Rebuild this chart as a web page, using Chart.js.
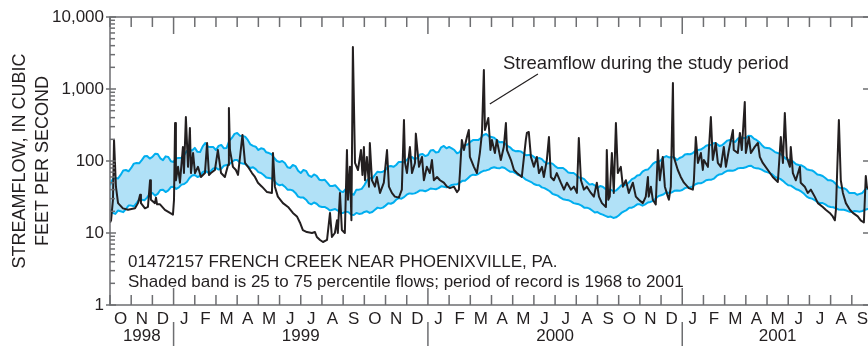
<!DOCTYPE html>
<html>
<head>
<meta charset="utf-8">
<title>French Creek streamflow</title>
<script src="https://cdn.jsdelivr.net/npm/chart.js@4.4.0/dist/chart.umd.min.js"></script>
<style>
  html, body { margin: 0; padding: 0; background: #fff; width: 868px; height: 346px; overflow: hidden; }
  #wrap { position: relative; width: 880px; height: 346px; }
</style>
</head>
<body>
<div id="wrap"><canvas id="flowChart"></canvas></div>
<script>
// Month letters for Oct 1998 .. Sep 2001 (x axis unit = months since Oct 1, 1998)
const monthLetters = [
    'O', 'N', 'D',
    'J', 'F', 'M', 'A', 'M', 'J', 'J', 'A', 'S', 'O', 'N', 'D',
    'J', 'F', 'M', 'A', 'M', 'J', 'J', 'A', 'S', 'O', 'N', 'D',
    'J', 'F', 'M', 'A', 'M', 'J', 'J', 'A', 'S'
];
const years = ['1998', '1999', '2000', '2001'];
const yearStartMonth = [0, 3, 15, 27];
const yearEndMonth = [3, 15, 27, 36];

const yTickValues = [1, 10, 100, 1000, 10000];

// Percentile band, one value every eighth of a month (cfs)
const bandStep = 0.125;
const bandUpper = [
    46, 56, 58, 57, 64, 74, 75, 72, 80, 92,
    94, 93, 103, 116, 117, 108, 114, 126, 125, 109,
    103, 116, 114, 99, 97, 109, 110, 111, 121, 138,
    142, 140, 152, 134, 133, 160, 178, 158, 157, 156,
    142, 162, 167, 150, 152, 190, 209, 238, 245, 225,
    223, 218, 196, 170, 162, 158, 142, 150, 147, 132,
    129, 124, 110, 100, 97, 100, 94, 82, 80, 88,
    85, 73, 68, 75, 73, 63, 60, 65, 62, 55,
    54, 55, 50, 45, 45, 46, 42, 38, 37, 41,
    40, 35, 34, 40, 40, 41, 46, 54, 58, 57,
    64, 71, 70, 71, 75, 84, 85, 83, 88, 97,
    97, 96, 103, 113, 114, 106, 110, 123, 125, 117,
    121, 140, 142, 131, 133, 155, 162, 150, 157, 150,
    142, 128, 133, 158, 167, 170, 184, 195, 196, 195,
    209, 230, 237, 220, 215, 210, 196, 182, 184, 176,
    162, 155, 142, 137, 138, 136, 129, 120, 121, 121,
    114, 107, 110, 106, 97, 92, 94, 92, 85, 80,
    80, 80, 75, 69, 68, 68, 64, 59, 58, 56,
    51, 47, 48, 46, 42, 45, 44, 41, 40, 40,
    38, 39, 42, 46, 46, 47, 51, 56, 58, 63,
    64, 71, 75, 76, 83, 92, 97, 97, 103, 112,
    117, 112, 114, 112, 103, 110, 114, 123, 125, 124,
    129, 139, 142, 144, 152, 163, 167, 168, 178, 173,
    162, 165, 178, 192, 196, 188, 184, 204, 215, 208,
    209, 225, 223, 205, 196, 184, 167, 154, 152, 150,
    142, 133, 129, 126, 117, 108, 103, 102, 97, 90,
    88, 87, 83, 77, 75, 74, 70, 65, 64, 62,
    58, 54, 54, 52, 48, 43, 42, 42, 40, 36,
    36, 36, 34, 35, 36, 40, 42, 43, 46
];
const bandLower = [
    21, 19, 18.4, 20.5, 20, 19.5, 21.5, 24, 24, 23.5,
    26, 29, 29, 28.5, 31, 35, 36, 33, 35, 39.5,
    40, 37, 39, 43.5, 44, 41, 43, 47, 48, 51,
    58, 63, 64, 60, 62, 70, 73, 69, 72, 79,
    80, 76, 78, 86, 88, 90, 97, 103, 103, 95,
    92, 91, 85, 80, 82, 77, 70, 68, 64, 59,
    58, 57, 53, 48, 46, 47, 44, 40, 40, 39,
    36, 32, 31, 31, 29, 26, 25, 26.5, 25.5, 23.5,
    23, 23, 22, 20.5, 21, 21.5, 20.5, 19, 19, 19.8,
    19.5, 18, 17.8, 19, 18.4, 18.6, 19.6, 20, 19, 19.6,
    21, 22.5, 22, 22.5, 24, 25.8, 25.5, 26.5, 29, 30.5,
    30, 31.5, 34, 35.5, 35, 35.5, 37, 39, 39, 38,
    39.5, 41.5, 41, 40.5, 42, 44.5, 44, 43, 44, 46.5,
    47, 47.5, 50, 53, 53, 57, 62, 64.5, 64, 66,
    70, 73, 74, 76, 80, 82, 80, 79, 82, 80,
    75, 71, 71, 68, 64, 63, 59, 55, 53, 51,
    48, 46.5, 46, 43, 42, 40, 38, 35, 34, 33,
    31, 29.5, 29, 28.6, 27.5, 26, 25.5, 25, 24, 22.5,
    22.5, 21.8, 20.5, 19.3, 19.5, 18.5, 18, 17.3, 16.7, 16.9,
    16.2, 16.5, 17.5, 19, 20, 20.8, 22.5, 22.5, 23.5, 25,
    25, 24, 25, 26.5, 27, 28, 30, 32.5, 33.5, 34.5,
    37, 36, 36.5, 38.5, 39, 38.5, 39.5, 42, 43, 43,
    44.5, 47.5, 49, 49, 51, 54, 55, 55, 57, 62,
    65, 66, 70, 73, 74, 73, 75, 79, 80, 80,
    82, 85, 86, 81, 79, 78.5, 76, 72, 70, 68,
    65, 60, 58, 56.5, 53, 49, 46, 45.5, 43, 40.5,
    39.5, 37.5, 35, 32, 30.6, 30, 28.5, 27, 26, 26,
    25, 23.5, 23, 22.8, 22, 21.2, 21, 21, 20.5, 19.8,
    19.6, 20.2, 20, 19.8, 20.2, 21, 21.5, 21.5, 22.2
];

// Daily streamflow during the study period (month position, cfs)
const flowMonth = [
    0, 0.05, 0.14, 0.19, 0.28, 0.38, 0.61, 0.85, 1.18, 1.32,
    1.42, 1.46, 1.65, 1.79, 1.89, 1.93, 2.12, 2.17, 2.22, 2.36,
    2.59, 2.83, 2.97, 3.02, 3.07, 3.11, 3.21, 3.30, 3.44, 3.49,
    3.58, 3.68, 3.77, 3.82, 3.92, 4.01, 4.15, 4.29, 4.48, 4.58,
    4.67, 4.76, 4.95, 5.09, 5.24, 5.42, 5.57, 5.61, 5.66, 5.80,
    5.94, 6.04, 6.25, 6.37, 6.51, 6.70, 6.84, 6.98, 7.17, 7.41,
    7.64, 7.69, 7.78, 7.92, 8.16, 8.40, 8.63, 8.82, 8.96, 9.10,
    9.29, 9.53, 9.67, 9.76, 9.91, 10.05, 10.24, 10.38, 10.47, 10.61,
    10.71, 10.75, 10.85, 10.94, 11.08, 11.18, 11.23, 11.32, 11.39, 11.46,
    11.56, 11.70, 11.84, 11.91, 11.98, 12.03, 12.12, 12.22, 12.26, 12.36,
    12.50, 12.59, 12.74, 12.92, 13.07, 13.16, 13.30, 13.44, 13.63, 13.77,
    13.87, 13.92, 14.01, 14.15, 14.25, 14.39, 14.43, 14.58, 14.72, 14.81,
    14.95, 15.09, 15.19, 15.28, 15.43, 15.57, 15.75, 15.90, 16.04, 16.23,
    16.37, 16.46, 16.51, 16.60, 16.70, 16.84, 16.93, 16.98, 17.17, 17.31,
    17.45, 17.55, 17.64, 17.69, 17.85, 17.95, 18.02, 18.16, 18.25, 18.44,
    18.58, 18.68, 18.73, 18.92, 19.06, 19.20, 19.43, 19.62, 19.67, 19.76,
    19.86, 20.00, 20.14, 20.24, 20.38, 20.47, 20.61, 20.71, 20.80, 20.94,
    21.08, 21.27, 21.42, 21.56, 21.75, 21.89, 22.03, 22.12, 22.22, 22.36,
    22.50, 22.69, 22.83, 22.97, 23.07, 23.21, 23.40, 23.44, 23.51, 23.58,
    23.68, 23.77, 23.87, 23.96, 24.10, 24.20, 24.34, 24.48, 24.67, 24.81,
    24.95, 25.14, 25.28, 25.38, 25.42, 25.52, 25.61, 25.75, 25.85, 25.94,
    26.08, 26.18, 26.32, 26.37, 26.46, 26.56, 26.60, 26.79, 26.93, 27.08,
    27.31, 27.50, 27.55, 27.64, 27.74, 27.88, 27.97, 28.02, 28.21, 28.35,
    28.44, 28.58, 28.68, 28.82, 28.96, 29.06, 29.20, 29.39, 29.43, 29.62,
    29.72, 29.81, 29.95, 30.00, 30.14, 30.24, 30.42, 30.57, 30.66, 30.80,
    31.04, 31.27, 31.51, 31.65, 31.75, 31.84, 31.93, 32.08, 32.12, 32.22,
    32.36, 32.55, 32.59, 32.78, 32.92, 33.07, 33.25, 33.40, 33.63, 33.77,
    33.96, 34.10, 34.20, 34.25, 34.39, 34.48, 34.58, 34.72, 34.91, 35.05,
    35.28, 35.42, 35.57, 35.66, 35.71, 35.80, 35.94
];
const flowCfs = [
    14, 15, 29, 196, 44, 26, 22, 21, 22, 26,
    34, 26, 22, 23, 54, 29, 26, 31, 25, 25,
    21, 19, 18, 29, 337, 54, 83, 50, 156, 68,
    408, 83, 287, 68, 129, 68, 83, 60, 68, 178,
    64, 68, 75, 142, 68, 60, 88, 545, 142, 83,
    75, 64, 230, 94, 83, 68, 60, 50, 44, 37,
    36, 129, 44, 32, 26, 23, 19, 17, 14, 11,
    10.3, 10, 10.3, 8.8, 8, 7.5, 8, 19, 8.8, 10,
    15, 10, 36, 11, 10, 142, 29, 83, 15, 3830,
    94, 75, 142, 64, 156, 54, 114, 44, 178, 54,
    44, 60, 36, 50, 142, 44, 36, 32, 31, 40,
    371, 94, 68, 156, 68, 94, 240, 83, 114, 54,
    83, 68, 103, 54, 60, 54, 50, 44, 42, 44,
    37, 40, 68, 196, 142, 215, 269, 114, 83, 68,
    129, 245, 1836, 269, 396, 142, 196, 129, 196, 103,
    156, 337, 142, 103, 75, 68, 60, 196, 245, 253,
    114, 83, 114, 68, 83, 60, 103, 215, 60, 54,
    68, 50, 40, 50, 40, 44, 36, 209, 54, 40,
    44, 36, 32, 50, 32, 26, 23, 142, 29, 32,
    129, 36, 337, 68, 83, 44, 54, 36, 50, 32,
    29, 26, 32, 60, 32, 44, 29, 25, 142, 54,
    114, 44, 32, 29, 44, 1212, 114, 75, 60, 50,
    42, 40, 54, 215, 94, 129, 75, 103, 83, 408,
    103, 178, 94, 83, 157, 83, 142, 269, 142, 129,
    245, 142, 660, 129, 215, 129, 157, 178, 114, 94,
    75, 60, 51, 215, 94, 464, 114, 83, 157, 68,
    54, 83, 50, 44, 36, 40, 32, 26, 23, 21,
    19, 17, 15, 21, 371, 54, 36, 26, 21, 19,
    17, 15, 14, 62, 44, 40, 38
];

const yTitle = ['STREAMFLOW, IN CUBIC', 'FEET PER SECOND'];
const stationNote = [
    '01472157 FRENCH CREEK NEAR PHOENIXVILLE, PA.',
    'Shaded band is 25 to 75 percentile flows; period of record is 1968 to 2001'
];
const calloutText = 'Streamflow during the study period';

const ink = '#231f20';
const axisGray = '#6d6e71';
const bandEdge = '#00aeef';
const bandFill = '#b1e1f7';
const fontFamily = "'Liberation Sans', Arial, Helvetica, sans-serif";

const flowPoints = flowMonth.map((m, i) => ({ x: m, y: flowCfs[i] }));
const upperPoints = bandUpper.map((v, i) => ({ x: i * bandStep, y: v }));
const lowerPoints = bandLower.map((v, i) => ({ x: i * bandStep, y: v }));

function strokeLine(ctx, x1, y1, x2, y2) {
    ctx.beginPath();
    ctx.moveTo(x1, y1);
    ctx.lineTo(x2, y2);
    ctx.stroke();
}

// Frame, inward tick marks, year row and the text notes
const frameAndNotes = {
    id: 'frameAndNotes',
    afterDraw(chart) {
        const { ctx, chartArea: a, scales: { x, y } } = chart;
        ctx.save();
        ctx.strokeStyle = axisGray;
        ctx.lineWidth = 1.5;
        ctx.strokeRect(a.left, a.top, a.right - a.left, a.bottom - a.top);

        // month ticks, longer at each new year
        for (let m = 0; m <= monthLetters.length; m++) {
            const px = x.getPixelForValue(m);
            const isYear = m > 0 && yearStartMonth.includes(m);
            const len = isYear ? 17 : 10;
            strokeLine(ctx, px, a.top, px, a.top + len);
            strokeLine(ctx, px, a.bottom, px, a.bottom - len);
            if (isYear) strokeLine(ctx, px, a.bottom + 17, px, a.bottom + 41);
        }

        // log ticks on both sides
        for (let d = 0; d <= 4; d++) {
            for (let k = 1; k <= 9; k++) {
                const v = Math.pow(10, d) * k;
                if (v > 10000) break;
                const py = y.getPixelForValue(v);
                if (k === 1) {
                    strokeLine(ctx, a.left - 4, py, a.left + 6, py);
                    strokeLine(ctx, a.right - 10, py, a.right, py);
                } else {
                    strokeLine(ctx, a.left, py, a.left + 5, py);
                    strokeLine(ctx, a.right - 5, py, a.right, py);
                }
            }
        }

        // year labels under the month letters
        ctx.fillStyle = ink;
        ctx.font = '17px ' + fontFamily;
        ctx.textAlign = 'center';
        ctx.textBaseline = 'alphabetic';
        years.forEach((yr, i) => {
            const cx = (x.getPixelForValue(yearStartMonth[i]) + x.getPixelForValue(yearEndMonth[i])) / 2;
            ctx.fillText(yr, cx, a.bottom + 36);
        });

        // station notes in the lower left of the plot
        ctx.textAlign = 'left';
        const noteX = x.getPixelForValue(0.85);
        ctx.fillText(stationNote[0], noteX, y.getPixelForValue(3.4));
        ctx.fillText(stationNote[1], noteX, y.getPixelForValue(1.78));

        // callout for the daily flow line
        ctx.font = '18.5px ' + fontFamily;
        ctx.fillText(calloutText, x.getPixelForValue(18.54), y.getPixelForValue(1900));
        ctx.strokeStyle = ink;
        ctx.lineWidth = 1.2;
        strokeLine(ctx, x.getPixelForValue(17.92), y.getPixelForValue(618),
                   x.getPixelForValue(20.19), y.getPixelForValue(1616));
        ctx.restore();
    }
};

new Chart(document.getElementById('flowChart'), {
    type: 'line',
    data: {
        datasets: [
            { label: 'Streamflow', data: flowPoints, borderColor: ink, borderWidth: 2, pointRadius: 0, fill: false },
            { label: '75th percentile', data: upperPoints, borderColor: bandEdge, borderWidth: 2, pointRadius: 0,
              fill: '+1', backgroundColor: bandFill },
            { label: '25th percentile', data: lowerPoints, borderColor: bandEdge, borderWidth: 2, pointRadius: 0, fill: false }
        ]
    },
    options: {
        responsive: true,
        maintainAspectRatio: false,
        animation: false,
        devicePixelRatio: 1,
        layout: { padding: { top: 17, right: 7, left: 0, bottom: 0 } },
        elements: { line: { tension: 0, borderJoinStyle: 'round' } },
        plugins: {
            legend: { display: false },
            tooltip: { enabled: false },
            filler: { drawTime: 'beforeDatasetsDraw' }
        },
        scales: {
            x: {
                type: 'linear',
                min: 0,
                max: 36,
                grid: { display: false, drawTicks: false },
                border: { display: false },
                afterBuildTicks: s => { s.ticks = monthLetters.map((_, i) => ({ value: i + 0.5 })); },
                afterFit: s => { s.height = 41; },
                ticks: {
                    autoSkip: false, maxRotation: 0, padding: 4, color: ink,
                    font: { family: fontFamily, size: 17 },
                    callback: (v, i) => monthLetters[i]
                }
            },
            y: {
                type: 'logarithmic',
                min: 1,
                max: 10000,
                grid: { display: false, drawTicks: false },
                border: { display: false },
                afterBuildTicks: s => { s.ticks = yTickValues.map(v => ({ value: v })); },
                afterFit: s => { s.width = 110; },
                ticks: {
                    padding: 6, color: ink,
                    font: { family: fontFamily, size: 17 },
                    callback: v => Number(v).toLocaleString('en-US')
                },
                title: {
                    display: true, text: yTitle, color: ink,
                    font: { family: fontFamily, size: 18, lineHeight: 1.25 },
                    padding: { top: 9, bottom: 0 }
                }
            }
        }
    },
    plugins: [frameAndNotes]
});
</script>
</body>
</html>
